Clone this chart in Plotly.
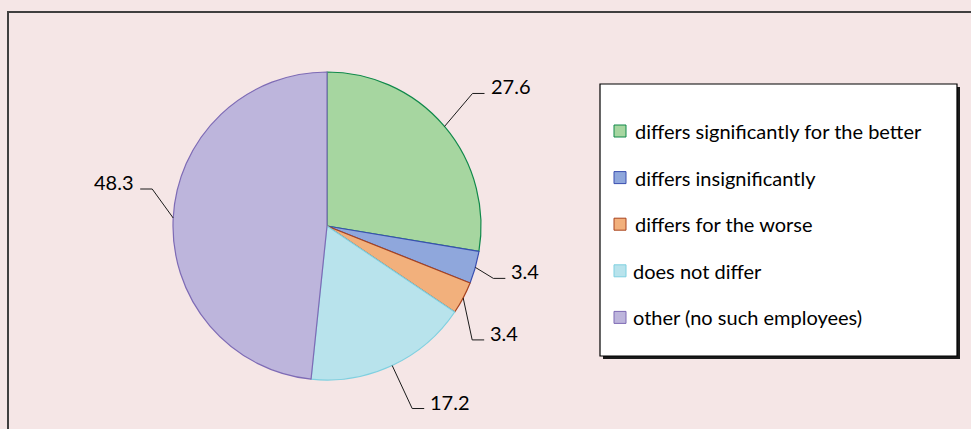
import math
import plotly.graph_objects as go

# ---------------- data ----------------
labels = [
    "differs significantly for the better",
    "differs insignificantly",
    "differs for the worse",
    "does not differ",
    "other (no such employees)",
]
values = [27.6, 3.4, 3.4, 17.2, 48.3]
value_text = ["27.6", "3.4", "3.4", "17.2", "48.3"]

# ---------------- style ----------------
fill_colors = ["#A6D6A0", "#8FA7DC", "#F2B07C", "#B8E3EC", "#BDB5DC"]
line_colors = ["#10894A", "#3A4FB0", "#A8431E", "#7FD0E0", "#7E6BB5"]
# elbow offsets (px) of leader lines from slice edge, per label
elbow_offsets = [(28, -33), (18, 11), (9, 42), (20, 43), (-21, -29)]
seg_len = 12
text_gap = 4

W, H = 971, 429
CX, CY, R = 327, 226, 154
BG = "#F5E6E6"
FONT = "Lato"
FS = 20


def px(x):
    return x / W


def py(y):
    return 1 - y / H


fig = go.Figure()
fig.add_trace(go.Pie(
    labels=labels,
    values=values,
    sort=False,
    direction="clockwise",
    rotation=0,
    textinfo="none",
    hole=0,
    marker=dict(colors=fill_colors, line=dict(color=line_colors, width=1.2)),
    domain=dict(x=[px(CX - R), px(CX + R)], y=[py(CY + R), py(CY - R)]),
    showlegend=False,
))

shapes = []
annotations = []

# frame lines
shapes.append(dict(type="line", xref="paper", yref="paper", x0=px(8), x1=px(W + 5),
                   y0=py(12), y1=py(12), line=dict(color="#3F3F3F", width=2)))
shapes.append(dict(type="line", xref="paper", yref="paper", x0=px(8), x1=px(8),
                   y0=py(11), y1=py(H + 5), line=dict(color="#3F3F3F", width=2)))

# leader lines + value labels
total = sum(values)
cum = 0.0
for v, t, (ox, oy) in zip(values, value_text, elbow_offsets):
    mid = (cum + v / 2) / total * 2 * math.pi
    cum += v
    ex = CX + R * math.sin(mid)
    ey = CY - R * math.cos(mid)
    bx, by = ex + ox, ey + oy
    d = 1 if ox >= 0 else -1
    hx = bx + d * seg_len
    shapes.append(dict(type="path", xref="paper", yref="paper",
                       path=f"M{px(ex)},{py(ey)} L{px(bx)},{py(by)} L{px(hx)},{py(by)}",
                       line=dict(color="#1A1A1A", width=1)))
    annotations.append(dict(
        xref="paper", yref="paper", x=px(hx + d * text_gap), y=py(by - 7),
        xanchor="left" if d > 0 else "right", yanchor="middle",
        text=t, showarrow=False, font=dict(family=FONT, size=FS, color="#000000"),
    ))

# legend box (with shadow)
LX0, LY0, LX1, LY1 = 600, 84, 957, 356
shapes.append(dict(type="rect", xref="paper", yref="paper",
                   x0=px(LX0 + 3), x1=px(LX1 + 3), y0=py(LY0 + 3), y1=py(LY1 + 3),
                   fillcolor="#1A1A1A", line=dict(width=0)))
shapes.append(dict(type="rect", xref="paper", yref="paper",
                   x0=px(LX0), x1=px(LX1), y0=py(LY0), y1=py(LY1),
                   fillcolor="white", line=dict(color="black", width=1.2)))
item_y0, item_step = 131, 46.6
for i, (lab, fc, lc) in enumerate(zip(labels, fill_colors, line_colors)):
    yc = item_y0 + i * item_step
    shapes.append(dict(type="rect", xref="paper", yref="paper",
                       x0=px(614), x1=px(626), y0=py(yc + 6), y1=py(yc - 6),
                       fillcolor=fc, line=dict(color=lc, width=1)))
    annotations.append(dict(
        xref="paper", yref="paper", x=px(631 if i >= 3 else 633), y=py(yc),
        xanchor="left", yanchor="middle", text=lab, showarrow=False,
        font=dict(family=FONT, size=FS, color="#000000"),
    ))

fig.update_layout(
    width=W, height=H,
    margin=dict(l=0, r=0, t=0, b=0),
    paper_bgcolor=BG, plot_bgcolor=BG,
    shapes=shapes, annotations=annotations,
    showlegend=False,
)

fig.write_html("out.html")
